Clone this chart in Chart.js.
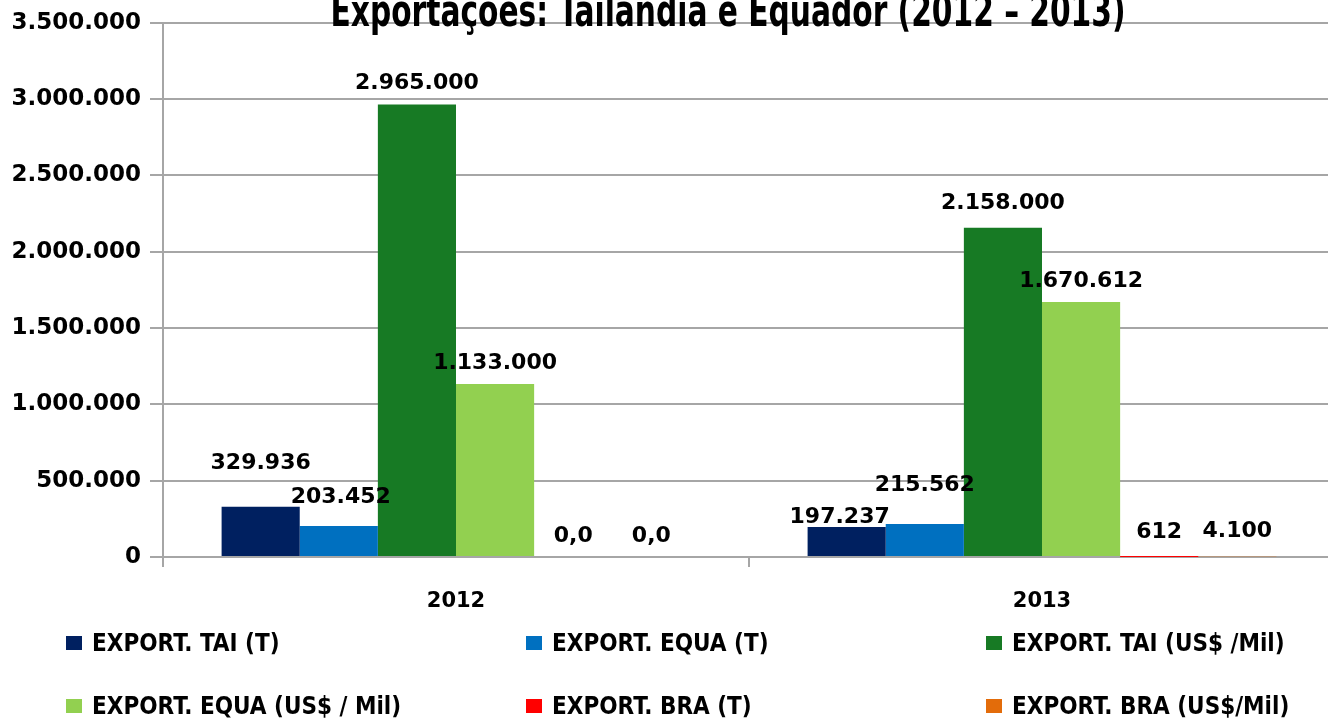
<!DOCTYPE html>
<html>
<head>
<meta charset="utf-8">
<script src="https://cdn.jsdelivr.net/npm/chart.js@4.4.1/dist/chart.umd.min.js"></script>
<style>
  html, body { margin: 0; padding: 0; background: #fff; }
  #wrap { position: relative; width: 1328px; height: 720px; overflow: hidden; }
  #legend {
    position: absolute; left: 66px; top: 629px; width: 1300px;
    display: grid; grid-template-columns: 460px 460px 400px; row-gap: 35px;
    font: bold 24px "DejaVu Sans Condensed", "DejaVu Sans", sans-serif; color: #000;
  }
  #legend span.item { display: flex; align-items: center; height: 28px; white-space: nowrap; }
  #legend span.box { display: inline-block; width: 16px; height: 14px; margin-right: 10px; }
</style>
</head>
<body>
<div id="wrap">
  <!-- plot runs a few px past the right edge in the source -->
  <canvas id="c" width="1335" height="720"></canvas>
  <div id="legend"></div>
</div>
<script>
const years = ["2012", "2013"];
const seriesNames = [
    "EXPORT. TAI (T)",
    "EXPORT. EQUA (T)",
    "EXPORT. TAI (US$ /Mil)",
    "EXPORT. EQUA (US$ / Mil)",
    "EXPORT. BRA (T)",
    "EXPORT. BRA (US$/Mil)"
];
const exportTaiT = [329936, 197237];
const exportEquaT = [203452, 215562];
const exportTaiUsd = [2965000, 2158000];
const exportEquaUsd = [1133000, 1670612];
const exportBraT = [0, 612];
const exportBraUsd = [0, 4100];
const yTicks = [0, 500000, 1000000, 1500000, 2000000, 2500000, 3000000, 3500000];

const colors = ["#002060", "#0070C0", "#177A24", "#92D050", "#FF0000", "#E36C0A"];
const seriesValues = [exportTaiT, exportEquaT, exportTaiUsd, exportEquaUsd, exportBraT, exportBraUsd];

const fmt = v => v === 0 ? "0,0" : v.toLocaleString("pt-BR");

// label nudges [dx, dy above bar top], keyed "dataset-index"
const nudge = {
    "0-0": [0, 43], "1-0": [2, 29],
    "0-1": [-7, 10], "1-1": [0, 39],
    "2-1": [0, 24], "4-1": [0, 25], "5-1": [0, 25]
};

const valueLabels = {
    id: "valueLabels",
    afterDatasetsDraw(chart) {
        const ctx = chart.ctx;
        ctx.save();
        ctx.font = "bold 22px 'DejaVu Sans'";
        ctx.fillStyle = "#000";
        ctx.textAlign = "center";
        ctx.textBaseline = "middle";
        chart.data.datasets.forEach((ds, di) => {
            chart.getDatasetMeta(di).data.forEach((bar, i) => {
                const n = nudge[di + "-" + i] || [0, 21];
                ctx.fillText(fmt(ds.data[i]), bar.x + n[0], bar.y - n[1]);
            });
        });
        ctx.restore();
    }
};

// title sits partly above the canvas, as in the source
const titlePlugin = {
    id: "cutTitle",
    afterDraw(chart) {
        const ctx = chart.ctx;
        const text = "Exportações: Tailândia e Equador (2012 – 2013)";
        ctx.save();
        ctx.font = "bold 44px 'DejaVu Sans Condensed', 'DejaVu Sans'";
        const sx = 795 / ctx.measureText(text).width;
        ctx.translate(728, 26);
        ctx.scale(sx, 1);
        ctx.fillStyle = "#000";
        ctx.textAlign = "center";
        ctx.textBaseline = "alphabetic";
        ctx.fillText(text, 0, 0);
        ctx.restore();
    }
};

const chart = new Chart(document.getElementById("c"), {
    type: "bar",
    data: {
        labels: years,
        datasets: seriesNames.map((name, i) => ({
            label: name,
            data: seriesValues[i],
            backgroundColor: colors[i],
            borderWidth: 0
        }))
    },
    options: {
        responsive: false,
        animation: false,
        layout: { padding: { top: 17, right: 0, bottom: 100, left: 0 } },
        barPercentage: 1,
        categoryPercentage: 0.8,
        plugins: {
            legend: { display: false },
            tooltip: { enabled: false }
        },
        scales: {
            x: {
                grid: { display: true, drawOnChartArea: false, drawTicks: true, tickLength: 10, color: "#a6a6a6", lineWidth: 2 },
                border: { display: false },
                ticks: { color: "#000", font: { family: "DejaVu Sans", size: 21, weight: "bold" }, padding: 22 },
                afterFit(scale) { scale.height = 63; }
            },
            y: {
                min: 0,
                max: 3500000,
                afterBuildTicks(scale) { scale.ticks = yTicks.map(v => ({ value: v })); },
                grid: { color: "#a6a6a6", lineWidth: 2, tickLength: 13 },
                border: { color: "#a6a6a6", width: 2 },
                ticks: {
                    color: "#000",
                    font: { family: "DejaVu Sans", size: 23, weight: "bold" },
                    padding: 9,
                    callback: v => v.toLocaleString("pt-BR")
                },
                afterFit(scale) { scale.width = 163; }
            }
        }
    },
    plugins: [valueLabels, titlePlugin]
});

const legendEl = document.getElementById("legend");
chart.data.datasets.forEach(ds => {
    const item = document.createElement("span");
    item.className = "item";
    const box = document.createElement("span");
    box.className = "box";
    box.style.background = ds.backgroundColor;
    item.appendChild(box);
    item.appendChild(document.createTextNode(ds.label));
    legendEl.appendChild(item);
});
</script>
</body>
</html>
